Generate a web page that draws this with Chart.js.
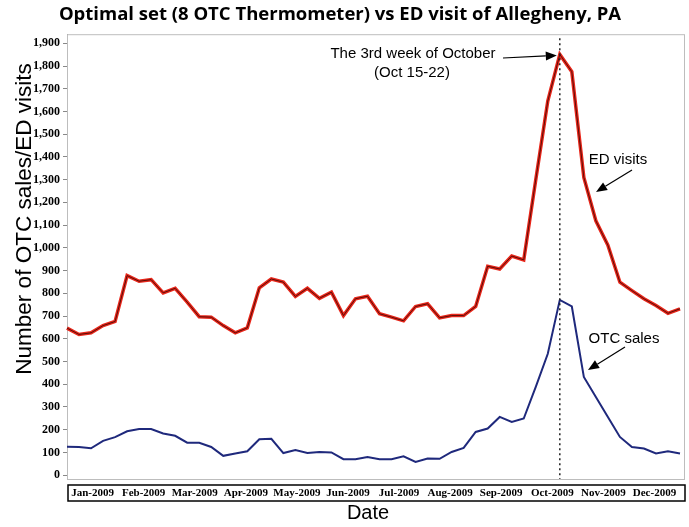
<!DOCTYPE html>
<html>
<head>
<meta charset="utf-8">
<script src="https://cdn.jsdelivr.net/npm/chart.js@4"></script>
<style>
  html, body { margin: 0; padding: 0; background: #fff; }
  canvas { display: block; }
</style>
</head>
<body>
<canvas id="chart" width="689" height="527"></canvas>
<script>
// weekly data, 2009 (week starting date)
const weeks = [
  'Jan 1', 'Jan 8', 'Jan 15', 'Jan 22', 'Jan 29', 'Feb 5', 'Feb 12', 'Feb 19', 'Feb 26',
  'Mar 5', 'Mar 12', 'Mar 19', 'Mar 26', 'Apr 2', 'Apr 9', 'Apr 16', 'Apr 23', 'Apr 30',
  'May 7', 'May 14', 'May 21', 'May 28', 'Jun 4', 'Jun 11', 'Jun 18', 'Jun 25',
  'Jul 2', 'Jul 9', 'Jul 16', 'Jul 23', 'Jul 30', 'Aug 6', 'Aug 13', 'Aug 20', 'Aug 27',
  'Sep 3', 'Sep 10', 'Sep 17', 'Sep 24', 'Oct 1', 'Oct 8', 'Oct 15', 'Oct 22', 'Oct 29',
  'Nov 5', 'Nov 12', 'Nov 19', 'Nov 26', 'Dec 3', 'Dec 10', 'Dec 17', 'Dec 24'
];

const edVisits = [
  647, 619, 626, 658, 676, 878, 853, 860, 802, 822, 761, 697, 695,
  658, 626, 648, 824, 863, 849, 786, 822, 778, 805, 702, 776, 787,
  710, 695, 679, 742, 754, 692, 702, 702, 742, 919, 907, 964, 947,
  1300, 1646, 1851, 1775, 1310, 1119, 1012, 849, 812, 776, 746, 712, 732
];

const otcSales = [
  125, 124, 118, 151, 167, 193, 203, 203, 183, 173, 143, 142, 124,
  85, 95, 105, 158, 160, 97, 110, 97, 102, 100, 70, 70, 80,
  70, 70, 83, 58, 73, 72, 102, 120, 190, 205, 256, 234, 249,
  388, 534, 771, 742, 432, 344, 256, 168, 124, 117, 95, 105, 95
];

const monthLabels = [
  'Jan-2009', 'Feb-2009', 'Mar-2009', 'Apr-2009', 'May-2009', 'Jun-2009',
  'Jul-2009', 'Aug-2009', 'Sep-2009', 'Oct-2009', 'Nov-2009', 'Dec-2009'
];

const yTicks = [0, 100, 200, 300, 400, 500, 600, 700, 800, 900, 1000,
  1100, 1200, 1300, 1400, 1500, 1600, 1700, 1800, 1900];

// peak week (3rd week of October)
const peakIndex = edVisits.indexOf(Math.max(...edVisits));

function arrow(ctx, x1, y1, x2, y2) {
  const a = Math.atan2(y2 - y1, x2 - x1);
  const len = 11, w = 4.5;
  ctx.beginPath();
  ctx.moveTo(x1, y1);
  ctx.lineTo(x2 - len * Math.cos(a), y2 - len * Math.sin(a));
  ctx.stroke();
  ctx.beginPath();
  ctx.moveTo(x2, y2);
  ctx.lineTo(x2 - len * Math.cos(a) + w * Math.sin(a), y2 - len * Math.sin(a) - w * Math.cos(a));
  ctx.lineTo(x2 - len * Math.cos(a) - w * Math.sin(a), y2 - len * Math.sin(a) + w * Math.cos(a));
  ctx.closePath();
  ctx.fill();
}

const decor = {
  id: 'decor',
  beforeDatasetsDraw(chart) {
    const { ctx, chartArea: a } = chart;
    ctx.save();
    ctx.strokeStyle = '#bdbdbd';
    ctx.lineWidth = 1;
    ctx.strokeRect(a.left + 0.5, a.top + 0.5, a.right + 4 - a.left, a.bottom - a.top);
    ctx.restore();
  },
  afterDatasetsDraw(chart) {
    const { ctx, chartArea: a, scales } = chart;
    const px = scales.x.getPixelForValue(peakIndex);
    const py = scales.y.getPixelForValue(edVisits[peakIndex]);
    ctx.save();
    // dotted line at the peak week
    ctx.strokeStyle = '#222';
    ctx.lineWidth = 1.5;
    ctx.setLineDash([2, 3]);
    ctx.beginPath();
    ctx.moveTo(px, a.top + 4);
    ctx.lineTo(px, a.bottom);
    ctx.stroke();
    ctx.setLineDash([]);

    // annotations
    ctx.fillStyle = '#000';
    ctx.strokeStyle = '#000';
    ctx.lineWidth = 1.2;
    ctx.font = '15px "Liberation Sans", Arial, sans-serif';
    ctx.textAlign = 'center';
    ctx.textBaseline = 'middle';
    ctx.fillText('The 3rd week of October', 413, 54);
    ctx.fillText('(Oct 15-22)', 412, 73);
    arrow(ctx, 503, 58, px - 3, py + 1);

    ctx.fillText('ED visits', 618, 160);
    arrow(ctx, 632, 170, 596, 192);

    ctx.fillText('OTC sales', 624, 339);
    arrow(ctx, 625, 347, 588, 370);
    ctx.restore();
  },
  afterDraw(chart) {
    const { ctx } = chart;
    ctx.save();
    // box round the month labels
    ctx.strokeStyle = '#000';
    ctx.lineWidth = 1.5;
    ctx.strokeRect(68, 485, 617, 16);

    ctx.fillStyle = '#000';
    ctx.textAlign = 'center';
    ctx.textBaseline = 'middle';
    ctx.font = '20px "Liberation Sans", Arial, sans-serif';
    ctx.fillText('Date', 368, 513);

    ctx.translate(25, 219);
    ctx.rotate(-Math.PI / 2);
    ctx.font = '22.5px "Liberation Sans", Arial, sans-serif';
    ctx.fillText('Number of OTC sales/ED visits', 0, 0);
    ctx.restore();
  }
};

new Chart(document.getElementById('chart'), {
  type: 'line',
  data: {
    labels: weeks,
    datasets: [
      {
        label: 'ED visits',
        data: edVisits,
        borderColor: '#e8261a',
        borderWidth: 3.5,
        pointRadius: 0,
        tension: 0,
        order: 3
      },
      {
        label: 'ED visits core',
        data: edVisits,
        borderColor: '#4a0b06',
        borderWidth: 0.9,
        pointRadius: 0,
        tension: 0,
        order: 1
      },
      {
        label: 'OTC sales',
        data: otcSales,
        borderColor: '#1f297c',
        borderWidth: 2,
        pointRadius: 0,
        tension: 0,
        order: 2
      }
    ]
  },
  options: {
    responsive: false,
    animation: false,
    layout: { padding: { left: 0, right: 9, top: 0, bottom: 0 } },
    plugins: {
      legend: { display: false },
      tooltip: { enabled: false },
      title: {
        display: true,
        text: 'Optimal set (8 OTC Thermometer) vs ED visit of Allegheny, PA',
        color: '#000',
        font: { family: '"Open Sans", sans-serif', size: 18.5, weight: 'bold' },
        padding: { top: 4, bottom: 8 }
      }
    },
    scales: {
      x: {
        type: 'category',
        position: 'bottom',
        weight: 0,
        offset: false,
        ticks: { display: false },
        grid: { display: false },
        border: { color: '#777', width: 1 },
        afterFit: s => { s.height = 0; }
      },
      month: {
        type: 'category',
        labels: monthLabels,
        position: 'bottom',
        weight: 1,
        offset: true,
        grid: { display: false },
        border: { display: false },
        ticks: {
          color: '#000',
          font: { family: '"Liberation Serif", "Times New Roman", serif', size: 11, weight: 'bold' },
          padding: 0,
          maxRotation: 0,
          autoSkip: false
        },
        afterFit: s => { s.height = 48; }
      },
      y: {
        min: -17,
        max: 1940,
        afterBuildTicks: s => { s.ticks = yTicks.map(v => ({ value: v })); },
        ticks: {
          color: '#000',
          font: { family: '"Liberation Serif", "Times New Roman", serif', size: 12, weight: 'bold' },
          padding: 3,
          callback: v => v.toLocaleString('en-US')
        },
        grid: { drawOnChartArea: false, tickLength: 4, color: '#888' },
        border: { color: '#888' },
        afterFit: s => { s.width = 67; }
      }
    }
  },
  plugins: [decor]
});
</script>
</body>
</html>
